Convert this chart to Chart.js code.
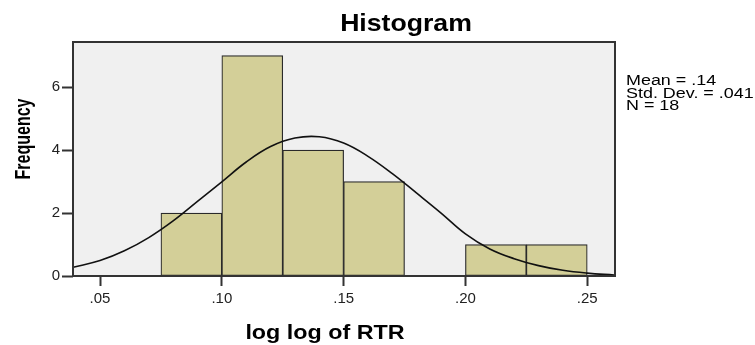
<!DOCTYPE html>
<html>
<head>
<meta charset="utf-8">
<script src="https://cdn.jsdelivr.net/npm/chart.js@4.4.0/dist/chart.umd.min.js"></script>
<style>
  html, body { margin: 0; padding: 0; background: #fff; }
</style>
</head>
<body>
<canvas id="myChart" width="755" height="345"></canvas>
<script>
// histogram bins (centre of each .025 wide bin) and counts
var binCenters = [0.0875, 0.1125, 0.1375, 0.1625, 0.1875, 0.2125, 0.2375];
var binCounts = [2, 7, 4, 3, 0, 1, 1];

// normal curve, every .01
var curveX = [0.039, 0.05, 0.06, 0.07, 0.08, 0.09, 0.10, 0.11, 0.12, 0.13, 0.14, 0.15, 0.16, 0.17, 0.18, 0.19, 0.20, 0.21, 0.22, 0.23, 0.24, 0.25, 0.261];
var curveY = [0.28, 0.49, 0.80, 1.22, 1.75, 2.37, 2.99, 3.62, 4.11, 4.38, 4.42, 4.22, 3.80, 3.25, 2.63, 2.00, 1.34, 0.86, 0.55, 0.33, 0.18, 0.09, 0.03];

var xTickValues = [0.05, 0.10, 0.15, 0.20, 0.25];
var xTickLabels = ['.05', '.10', '.15', '.20', '.25'];
var yTickValues = [0, 2, 4, 6];

var titleText = 'Histogram';
var xTitle = 'log log of RTR';
var yTitle = 'Frequency';
var statLines = ['Mean = .14', 'Std. Dev. = .041', 'N = 18'];

var fontFamily = "'Liberation Sans', Arial, sans-serif";

function makePoints(xs, ys){
    var pts = [];
    for (var i = 0; i < xs.length; i++) {
        pts.push({x: xs[i], y: ys[i]});
    }
    return pts;
}

// the original picture is a bit wider than tall, so text gets stretched sideways
function wideText(ctx, text, x, y, sx){
    ctx.save();
    ctx.translate(x, y);
    ctx.scale(sx, 1);
    ctx.fillText(text, 0, 0);
    ctx.restore();
}

var spssFrame = {
    id: 'spssFrame',
    beforeDatasetsDraw: function(chart){
        var a = chart.chartArea;
        var ctx = chart.ctx;
        ctx.save();
        ctx.fillStyle = '#f0f0f0';
        ctx.fillRect(a.left, a.top, a.right - a.left, a.bottom - a.top);
        ctx.restore();
    },
    afterDatasetsDraw: function(chart){
        var a = chart.chartArea;
        var ctx = chart.ctx;
        ctx.save();
        ctx.strokeStyle = '#333';
        ctx.lineWidth = 2;
        ctx.strokeRect(a.left, a.top, a.right - a.left, a.bottom - a.top);
        ctx.restore();
    },
    afterDraw: function(chart){
        var ctx = chart.ctx;
        ctx.save();
        ctx.fillStyle = '#000';
        ctx.textBaseline = 'alphabetic';
        ctx.textAlign = 'center';

        // chart title
        ctx.font = 'bold 24px ' + fontFamily;
        wideText(ctx, titleText, 406, 31, 1.11);

        // x axis title
        ctx.font = 'bold 21px ' + fontFamily;
        wideText(ctx, xTitle, 325, 339, 1.11);

        // y axis title (rotated, glyphs stretched across the page)
        ctx.save();
        ctx.translate(30, 139);
        ctx.rotate(-Math.PI / 2);
        ctx.scale(1, 1.35);
        ctx.font = 'bold 16px ' + fontFamily;
        ctx.fillText(yTitle, 0, 0);
        ctx.restore();

        // stats box
        ctx.font = '14px ' + fontFamily;
        ctx.textAlign = 'left';
        for (var i = 0; i < statLines.length; i++) {
            wideText(ctx, statLines[i], 626, 85 + i * 12.5, 1.28);
        }
        ctx.restore();
    }
};

var ctx = document.getElementById('myChart').getContext('2d');
var chart = new Chart(ctx, {
    type: 'bar',
    data: {
        datasets: [{
            type: 'line',
            label: 'Normal',
            data: makePoints(curveX, curveY),
            borderColor: '#111',
            borderWidth: 1.6,
            pointRadius: 0,
            fill: false,
            tension: 0.4,
            order: 0
        }, {
            type: 'bar',
            label: 'Frequency',
            data: makePoints(binCenters, binCounts),
            backgroundColor: '#d3cf98',
            borderColor: '#2a2a2a',
            borderWidth: 1.2,
            borderSkipped: false,
            barPercentage: 1,
            categoryPercentage: 1,
            order: 1
        }]
    },
    options: {
        responsive: false,
        animation: false,
        devicePixelRatio: 1,
        layout: {
            padding: {left: 0, top: 42, right: 140, bottom: 0}
        },
        plugins: {
            legend: {display: false},
            tooltip: {enabled: false},
            title: {display: false}
        },
        scales: {
            x: {
                type: 'linear',
                offset: false,
                min: 0.0389,
                max: 0.2614,
                afterBuildTicks: function(scale){
                    scale.ticks = xTickValues.map(function(v){ return {value: v}; });
                },
                afterFit: function(scale){ scale.height = 69; },
                ticks: {
                    autoSkip: false,
                    maxRotation: 0,
                    padding: 4,
                    color: '#222',
                    font: {family: fontFamily, size: 15},
                    callback: function(value){
                        return xTickLabels[xTickValues.indexOf(value)];
                    }
                },
                grid: {
                    offset: false,
                    drawOnChartArea: false,
                    tickLength: 10,
                    tickColor: '#333',
                    tickWidth: 2
                },
                border: {display: false}
            },
            y: {
                min: 0,
                max: 7.43,
                afterBuildTicks: function(scale){
                    scale.ticks = yTickValues.map(function(v){ return {value: v}; });
                },
                afterFit: function(scale){ scale.width = 73; },
                ticks: {
                    padding: 2,
                    color: '#222',
                    font: {family: fontFamily, size: 15}
                },
                grid: {
                    drawOnChartArea: false,
                    tickLength: 11,
                    tickColor: '#333',
                    tickWidth: 2
                },
                border: {display: false}
            }
        }
    },
    plugins: [spssFrame]
});
</script>
</body>
</html>
